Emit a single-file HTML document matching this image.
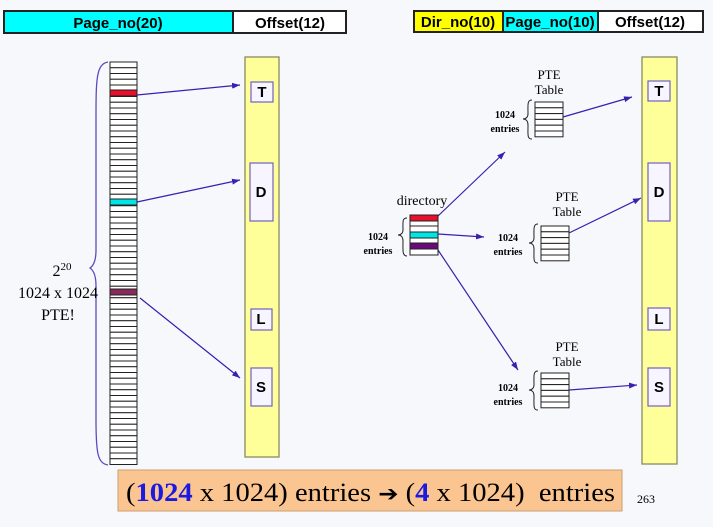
<!DOCTYPE html>
<html><head><meta charset="utf-8"><style>
html,body{margin:0;padding:0;background:#f7f8fc;}
svg{display:block;}
.h{font-family:"Liberation Sans",sans-serif;font-weight:bold;font-size:15px;}
.s{font-family:"Liberation Serif",serif;}
</style></head><body>
<svg width="713" height="527" xmlns="http://www.w3.org/2000/svg">
<defs><marker id="a" markerWidth="8" markerHeight="6" refX="8" refY="3" orient="auto" markerUnits="userSpaceOnUse"><path d="M0,0 L8,3 L0,6 z" fill="#3a1fb0"/></marker></defs>
<rect width="713" height="527" fill="#f7f8fc"/>
<rect x="4" y="11" width="229" height="22" fill="#00ffff" stroke="#222" stroke-width="2"/>
<rect x="233" y="11" width="113" height="22" fill="#fff" stroke="#222" stroke-width="2"/>
<text x="118" y="28" class="h" text-anchor="middle">Page_no(20)</text>
<text x="290" y="28" class="h" text-anchor="middle">Offset(12)</text>
<rect x="414" y="11" width="89" height="21" fill="#ffff00" stroke="#222" stroke-width="2"/>
<rect x="503" y="11" width="95" height="21" fill="#00ffff" stroke="#222" stroke-width="2"/>
<rect x="598" y="11" width="105" height="21" fill="#fff" stroke="#222" stroke-width="2"/>
<text x="458" y="27" class="h" text-anchor="middle" font-size="14">Dir_no(10)</text>
<text x="550" y="27" class="h" text-anchor="middle" font-size="14">Page_no(10)</text>
<text x="650" y="27" class="h" text-anchor="middle">Offset(12)</text>
<g id="lt"></g>
<rect x="110" y="90" width="27" height="6" fill="#e8102e" stroke="#222" stroke-width="1"/>
<rect x="110" y="199" width="27" height="6" fill="#00e5e5" stroke="#222" stroke-width="1"/>
<rect x="110" y="289" width="27" height="6" fill="#8a2a5a" stroke="#222" stroke-width="1"/>
<path d="M108,62 C96,64 96,80 96,120 L96,250 C96,262 93,266 90,268 C93,270 96,274 96,286 L96,420 C96,455 98,463 108,465" fill="none" stroke="#5a4cc0" stroke-width="1.3"/>
<text x="62" y="276" class="s" font-size="16" text-anchor="middle">2<tspan dy="-6" font-size="11">20</tspan></text>
<text x="58" y="298" class="s" font-size="16" text-anchor="middle">1024 x 1024</text>
<text x="58" y="320" class="s" font-size="16" text-anchor="middle">PTE!</text>
<rect x="245" y="57" width="34" height="400" fill="#ffff99" stroke="#8a8a60" stroke-width="1.3"/>
<rect x="642" y="57" width="35" height="407" fill="#ffff99" stroke="#8a8a60" stroke-width="1.3"/>
<g fill="#f7f5ff" stroke="#7060c0" stroke-width="1.2">
<rect x="251" y="82" width="22" height="20"/><rect x="250" y="163" width="23" height="58"/><rect x="251" y="309" width="21" height="21"/><rect x="251" y="368" width="21" height="38"/>
<rect x="648" y="81" width="22" height="20"/><rect x="648" y="163" width="22" height="58"/><rect x="648" y="308" width="22" height="22"/><rect x="648" y="368" width="22" height="38"/>
</g>
<g class="h" font-size="13" text-anchor="middle">
<text x="262" y="97">T</text><text x="261" y="197">D</text><text x="261" y="324">L</text><text x="261" y="392">S</text>
<text x="659" y="96">T</text><text x="659" y="197">D</text><text x="659" y="324">L</text><text x="659" y="392">S</text>
</g>
<g stroke="#3a1fb0" stroke-width="1.2" marker-end="url(#a)">
<line x1="137" y1="95" x2="240" y2="85"/>
<line x1="137" y1="202" x2="240" y2="180"/>
<line x1="140" y1="298" x2="240" y2="378"/>
<line x1="438" y1="216" x2="505" y2="152"/>
<line x1="438" y1="234" x2="484" y2="237"/>
<line x1="438" y1="250" x2="518" y2="370"/>
<line x1="563" y1="117" x2="632" y2="97"/>
<line x1="569" y1="233" x2="641" y2="198"/>
<line x1="569" y1="390" x2="637" y2="385"/>
</g>
<g stroke="#222" stroke-width="1">
<rect x="410" y="215" width="28" height="6" fill="#e8102e"/>
<rect x="410" y="221" width="28" height="5" fill="#fff"/>
<rect x="410" y="226" width="28" height="6" fill="#fff"/>
<rect x="410" y="232" width="28" height="6" fill="#00e5e5"/>
<rect x="410" y="238" width="28" height="5" fill="#fff"/>
<rect x="410" y="243" width="28" height="6" fill="#6a0a7a"/>
<rect x="410" y="249" width="28" height="6" fill="#fff"/>
</g>
<text x="422" y="205" class="s" font-size="14" text-anchor="middle">directory</text>
<path d="M407,218 C402,218 403,222 403,230 C403,233 401,235 398,235 C401,235 403,237 403,241 C403,250 402,256 407,256" fill="none" stroke="#222"/>
<text x="378" y="240" class="s" font-size="10" font-weight="bold" text-anchor="middle">1024</text>
<text x="378" y="254" class="s" font-size="10" font-weight="bold" text-anchor="middle">entries</text>
<g id="ptes"></g>
<rect x="118" y="470" width="504" height="41" fill="#fbc591" stroke="#c8a070" stroke-width="1"/>
<text x="126" y="501" class="s" font-size="26" textLength="489" lengthAdjust="spacingAndGlyphs" xml:space="preserve">(<tspan fill="#1a1ae0" font-weight="bold">1024</tspan> x 1024) entries <tspan font-family="DejaVu Sans" font-weight="bold" font-size="22">➔</tspan> (<tspan fill="#1a1ae0" font-weight="bold">4</tspan> x 1024)  entries</text>
<text x="637" y="503" class="s" font-size="12">263</text>
</svg>
<script>
var ns="http://www.w3.org/2000/svg";
var g=document.getElementById('lt');
function r(p,x,y,w,h,f){var e=document.createElementNS(ns,'rect');e.setAttribute('x',x);e.setAttribute('y',y);e.setAttribute('width',w);e.setAttribute('height',h);e.setAttribute('fill',f);e.setAttribute('stroke','#222');e.setAttribute('stroke-width','1');p.appendChild(e);}
for(var i=0;i<70;i++)r(g,110,(62+i*5.75).toFixed(2),27,5.75,'#fff');
var pg=document.getElementById('ptes');
var P=[[535,102,535,85,505,114],[541,226,553,207,508,237],[541,373,553,357,508,387]];
P.forEach(function(p){
 for(var i=0;i<6;i++)r(pg,p[0],p[1]+i*5.8,28,5.8,'#fff');
 function t(x,y,s,sz,b){var e=document.createElementNS(ns,'text');e.setAttribute('x',x);e.setAttribute('y',y);e.setAttribute('text-anchor','middle');e.setAttribute('font-family','Liberation Serif, serif');e.setAttribute('font-size',sz);if(b)e.setAttribute('font-weight','bold');e.textContent=s;pg.appendChild(e);}
 t(p[2]+14,p[3]-6,'PTE',13);t(p[2]+14,p[3]+9,'Table',13);
 t(p[4],p[5]+4,'1024',10,1);t(p[4],p[5]+18,'entries',10,1);
 var x=p[0]-3,y=p[1];var d=document.createElementNS(ns,'path');
 d.setAttribute('d','M'+x+','+(y-2)+' C'+(x-5)+','+(y-2)+' '+(x-4)+','+(y+3)+' '+(x-4)+','+(y+12)+' C'+(x-4)+','+(y+15)+' '+(x-6)+','+(y+17)+' '+(x-9)+','+(y+17)+' C'+(x-6)+','+(y+17)+' '+(x-4)+','+(y+19)+' '+(x-4)+','+(y+23)+' C'+(x-4)+','+(y+33)+' '+(x-5)+','+(y+37)+' '+x+','+(y+37));
 d.setAttribute('fill','none');d.setAttribute('stroke','#222');pg.appendChild(d);
});
</script>
</body></html>
